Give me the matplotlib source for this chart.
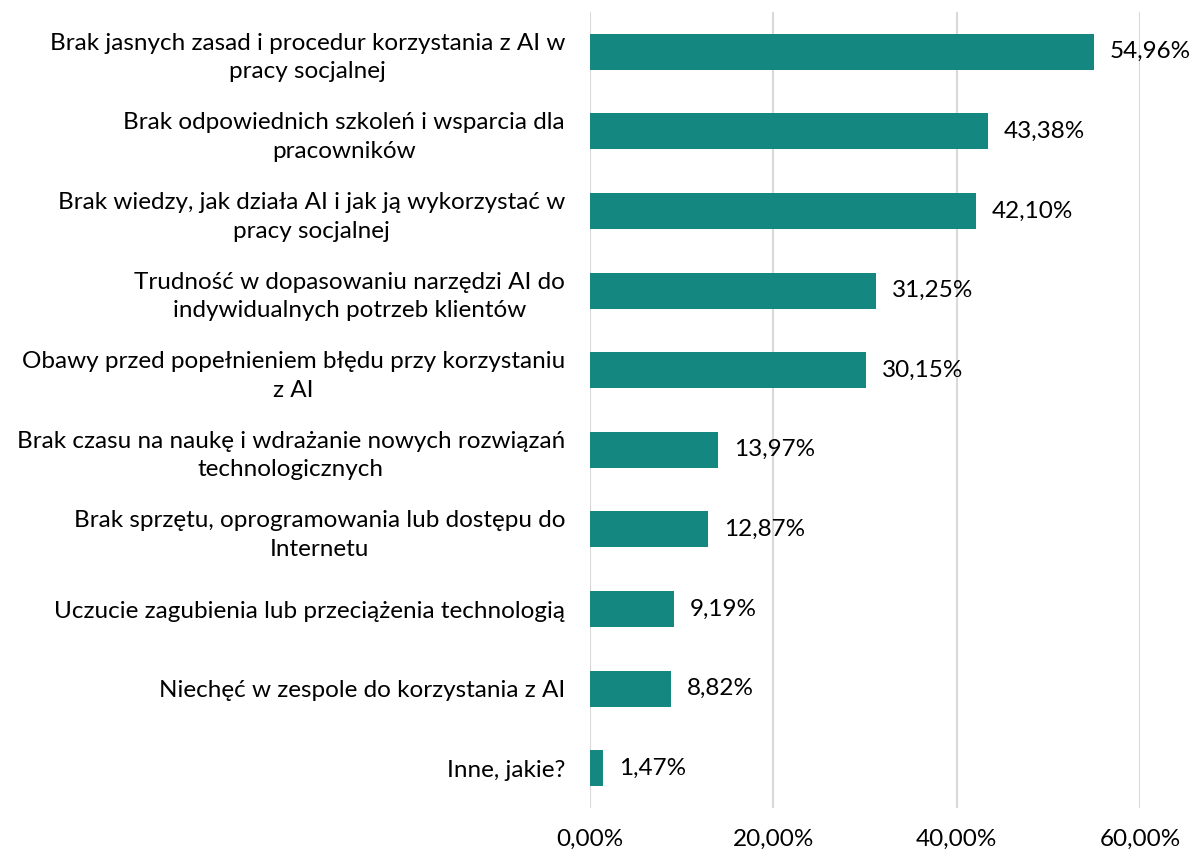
import matplotlib
matplotlib.use("Agg")
import matplotlib.pyplot as plt

categories = [
    "Brak jasnych zasad i procedur korzystania z AI w\npracy socjalnej",
    "Brak odpowiednich szkoleń i wsparcia dla\npracowników",
    "Brak wiedzy, jak działa AI i jak ją wykorzystać w\npracy socjalnej",
    "Trudność w dopasowaniu narzędzi AI do\nindywidualnych potrzeb klientów",
    "Obawy przed popełnieniem błędu przy korzystaniu\nz AI",
    "Brak czasu na naukę i wdrażanie nowych rozwiązań\ntechnologicznych",
    "Brak sprzętu, oprogramowania lub dostępu do\nInternetu",
    "Uczucie zagubienia lub przeciążenia technologią",
    "Niechęć w zespole do korzystania z AI",
    "Inne, jakie?",
]
values = [54.96, 43.38, 42.10, 31.25, 30.15, 13.97, 12.87, 9.19, 8.82, 1.47]
xticks = [0, 20, 40, 60]

BAR_COLOR = "#148780"
FONT = "Lato"
FS = 17.5

plt.rcParams["font.family"] = [FONT, "DejaVu Sans"]


def pct(v):
    return f"{v:.2f}%".replace(".", ",")


fig = plt.figure(figsize=(11.93, 8.55), dpi=100)
ax = fig.add_axes([590 / 1193, 1 - 808 / 855, 550 / 1193, 796 / 855])

ypos = list(range(len(values)))
ax.barh(ypos, values, height=0.45, color=BAR_COLOR, zorder=3)
for y, v in zip(ypos, values):
    ax.text(v + 1.7, y, pct(v), va="center", ha="left",
            fontsize=FS, color="#000000")

ax.set_xlim(0, 60)
ax.set_ylim(len(values) - 0.5, -0.5)
ax.set_yticks(ypos)
ax.set_yticklabels(categories, fontsize=FS, ha="right",
                   multialignment="center", linespacing=1.45)
ax.tick_params(axis="y", length=0, pad=18)

ax.set_xticks(xticks)
ax.set_xticklabels([pct(t) for t in xticks], fontsize=FS)
ax.tick_params(axis="x", length=0, pad=15)

ax.grid(axis="x", color="#d9d9d9", linewidth=1.5, zorder=0)
for s in ax.spines.values():
    s.set_visible(False)

fig.savefig("out.png", dpi=100)
